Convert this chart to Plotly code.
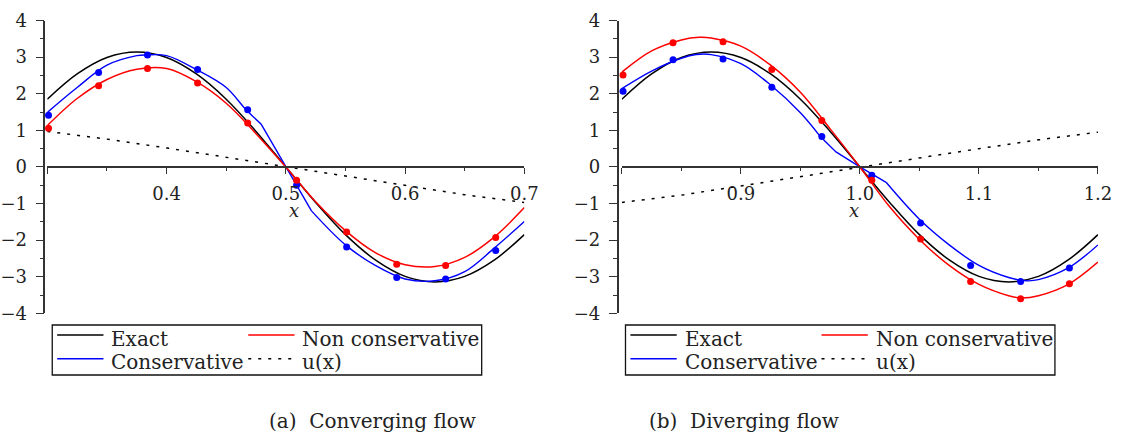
import plotly.graph_objects as go

W, H = 1130, 446
FONT = "DejaVu Serif"
INK = "#222222"
AXIS = "#333333"

# ---------------- (a) Converging flow ----------------
a_x_line = [0.300, 0.325, 0.350, 0.375, 0.400, 0.425, 0.450, 0.475, 0.500,
            0.525, 0.550, 0.575, 0.600, 0.625, 0.650, 0.675, 0.700]
a_exact = [1.85, 2.54, 2.99, 3.14, 2.99, 2.54, 1.85, 0.97, 0.00,
           -0.97, -1.85, -2.54, -2.99, -3.14, -2.99, -2.54, -1.85]
a_noncons_line = [1.13, 1.87, 2.39, 2.67, 2.69, 2.33, 1.74, 0.91, 0.00,
                  -0.95, -1.74, -2.34, -2.67, -2.72, -2.47, -1.91, -1.11]

# conservative solution: smooth branches joined by a straight piece across the centre
a_cons_x = [0.300, 0.325, 0.350, 0.375, 0.3833, 0.400, 0.425, 0.450, 0.4667,
            0.4793, 0.500, 0.5215, 0.550, 0.575, 0.600, 0.625,
            0.650, 0.675, 0.700]
a_cons = [1.49, 2.17, 2.78, 3.04, 3.06, 3.04, 2.66, 2.17, 1.56,
          1.17, 0.00, -1.20, -2.13, -2.69, -3.06, -3.11,
          -2.86, -2.21, -1.49]
a_kinks = (9, 11)

a_u_x = [0.30, 0.35, 0.40, 0.45, 0.50, 0.55, 0.60, 0.65, 0.70]
a_u = [0.97, 0.76, 0.52, 0.26, 0.00, -0.26, -0.52, -0.76, -0.97]

a_pts_x = [0.301, 0.343, 0.384, 0.426, 0.468, 0.509, 0.551, 0.593, 0.634, 0.676]
a_pts_noncons = [1.06, 2.22, 2.69, 2.29, 1.20, -0.365, -1.78, -2.66, -2.69, -1.93]
a_pts_cons = [1.41, 2.58, 3.06, 2.66, 1.56, -0.50, -2.19, -3.02, -3.06, -2.28]

# ---------------- (b) Diverging flow ----------------
b_x_line = [0.800, 0.825, 0.850, 0.875, 0.900, 0.925, 0.950, 0.975, 1.000,
            1.025, 1.050, 1.075, 1.100, 1.125, 1.150, 1.175, 1.200]
b_exact = [1.85, 2.54, 2.99, 3.14, 2.99, 2.54, 1.85, 0.97, 0.00,
           -0.97, -1.85, -2.54, -2.99, -3.14, -2.99, -2.54, -1.85]

b_noncons_x = [0.800, 0.825, 0.850, 0.865, 0.875, 0.900, 0.925, 0.950, 0.975,
               1.000, 1.025, 1.050, 1.075, 1.100, 1.125, 1.135, 1.150, 1.175, 1.200]
b_noncons_line = [2.59, 3.17, 3.47, 3.54, 3.52, 3.30, 2.78, 2.04, 1.04,
                  0.00, -1.09, -1.98, -2.69, -3.21, -3.52, -3.58, -3.52, -3.21, -2.60]

b_cons_x = [0.800, 0.825, 0.850, 0.8625, 0.875, 0.900, 0.925, 0.950, 0.9667,
            0.9799, 1.000, 1.022, 1.050, 1.075, 1.100, 1.125, 1.140,
            1.150, 1.175, 1.200]
b_cons = [2.14, 2.62, 2.97, 3.07, 3.07, 2.82, 2.24, 1.48, 0.83,
          0.41, 0.00, -0.42, -1.43, -2.13, -2.69, -3.02, -3.11,
          -3.08, -2.76, -2.13]
b_kinks = (8, 11)

b_u_x = [0.80, 0.85, 0.90, 0.95, 1.00, 1.05, 1.10, 1.15, 1.20]
b_u = [-0.97, -0.77, -0.52, -0.26, 0.00, 0.26, 0.50, 0.74, 0.95]

b_pts_x = [0.801, 0.843, 0.885, 0.926, 0.968, 1.010, 1.051, 1.093, 1.135, 1.176]
b_pts_noncons = [2.51, 3.39, 3.42, 2.66, 1.27, -0.365, -1.97, -3.13, -3.60, -3.19]
b_pts_cons = [2.07, 2.93, 2.95, 2.18, 0.83, -0.23, -1.53, -2.69, -3.13, -2.76]

y_ticks = [-4, -3, -2, -1, 0, 1, 2, 3, 4]
y_tick_text = ["\u22124", "\u22123", "\u22122", "\u22121", "0", "1", "2", "3", "4"]
a_x_ticks = [0.3, 0.4, 0.5, 0.6, 0.7]
a_x_text = ["", "0.4", "0.5", "0.6", "0.7"]
b_x_ticks = [0.8, 0.9, 1.0, 1.1, 1.2]
b_x_text = ["", "0.9", "1.0", "1.1", "1.2"]

BLACK, RED, BLUE = "#000000", "#ff0000", "#0000ff"
DOT = "3px,7px"


def px_x(p):
    return p / W


def px_y(p):
    return 1 - p / H


Y_TOP, Y_BOT, Y_ZERO = 10, 317.3, 163.65
panels = [
    dict(left=45.0, right=529.3, yaxis_px=42.0,
         rng=[0.3, 0.7], ticks=a_x_ticks, text=a_x_text),
    dict(left=628.3, right=1111.7, yaxis_px=624.0,
         rng=[0.8, 1.2], ticks=b_x_ticks, text=b_x_text),
]

fig = go.Figure()


def add_panel(xref, yref, lx, exact, cx, cons, kinks, nx, noncons, ux, u, px, pc, pn):
    common = dict(xaxis=xref, yaxis=yref, showlegend=False, hoverinfo="skip")
    fig.add_trace(go.Scatter(x=ux, y=u, mode="lines",
                             line=dict(color=BLACK, width=1.5, dash=DOT), **common))
    fig.add_trace(go.Scatter(x=lx, y=exact, mode="lines",
                             line=dict(color=BLACK, width=1.5, shape="spline"), **common))
    k0, k1 = kinks
    pieces = [(0, k0 + 1, "spline"), (k0, k1 + 1, "linear"), (k1, len(cx), "spline")]
    for s, e, shape in pieces:
        fig.add_trace(go.Scatter(x=cx[s:e], y=cons[s:e], mode="lines",
                                 line=dict(color=BLUE, width=1.4, shape=shape),
                                 **common))
    fig.add_trace(go.Scatter(x=nx, y=noncons, mode="lines",
                             line=dict(color=RED, width=1.5, shape="spline"), **common))
    fig.add_trace(go.Scatter(x=px, y=pc, mode="markers", cliponaxis=False,
                             marker=dict(color=BLUE, size=7), **common))
    fig.add_trace(go.Scatter(x=px, y=pn, mode="markers", cliponaxis=False,
                             marker=dict(color=RED, size=7), **common))


add_panel("x", "y", a_x_line, a_exact, a_cons_x, a_cons, a_kinks, a_x_line,
          a_noncons_line, a_u_x, a_u, a_pts_x, a_pts_cons, a_pts_noncons)
add_panel("x2", "y2", b_x_line, b_exact, b_cons_x, b_cons, b_kinks, b_noncons_x,
          b_noncons_line, b_u_x, b_u, b_pts_x, b_pts_cons, b_pts_noncons)

tick_font = dict(family=FONT, size=18, color=INK)
layout = dict(width=W, height=H, margin=dict(l=0, r=0, t=0, b=0),
              paper_bgcolor="white", plot_bgcolor="white", showlegend=False)

for i, p in enumerate(panels):
    sx = "" if i == 0 else "2"
    layout["xaxis" + sx] = dict(
        domain=[px_x(p["left"]), px_x(p["right"])], range=p["rng"],
        anchor="free", position=px_y(Y_ZERO),
        tickvals=p["ticks"], ticktext=p["text"], ticks="outside", ticklen=6,
        tickwidth=1.3, tickcolor=AXIS, tickfont=tick_font, ticklabelstandoff=5,
        ticklabeloverflow="allow",
        minor=dict(dtick=0.05, tick0=p["rng"][0], ticks="outside", ticklen=3,
                   tickwidth=1.2, tickcolor=AXIS, showgrid=False),
        showline=True, linecolor=AXIS, linewidth=1.6,
        showgrid=False, zeroline=False, fixedrange=True)
    layout["yaxis" + sx] = dict(
        domain=[px_y(Y_BOT), px_y(Y_TOP)], range=[-4, 4],
        anchor="free", position=px_x(p["yaxis_px"]),
        tickvals=y_ticks, ticktext=y_tick_text, ticks="outside", ticklen=8,
        tickwidth=1.3, tickcolor=AXIS, tickfont=tick_font, ticklabelstandoff=5,
        ticklabeloverflow="allow",
        minor=dict(dtick=0.5, ticks="outside", ticklen=4, tickwidth=1.2,
                   tickcolor=AXIS, showgrid=False),
        showline=True, linecolor=AXIS, linewidth=1.6,
        showgrid=False, zeroline=False, fixedrange=True)

fig.update_layout(**layout)

# axis titles, legends and captions
legend_rows = [("Exact", BLACK, None, 0, 0), ("Non conservative", RED, None, 1, 0),
               ("Conservative", BLUE, None, 0, 1), ("u(x)", BLACK, DOT, 1, 1)]
captions = ["(a)  Converging flow", "(b)  Diverging flow"]
caption_x = [268, 851]
legend_left = [50, 632]

shapes, annotations = [], []
for i, p in enumerate(panels):
    x_mid = p["left"] + (p["right"] - p["left"]) / 2
    annotations.append(dict(xref="paper", yref="paper", x=px_x(x_mid + 1),
                            y=px_y(209), yanchor="middle", text="<i>x</i>",
                            showarrow=False,
                            font=dict(family=FONT, size=18, color=INK)))
    annotations.append(dict(xref="paper", yref="paper", x=px_x(caption_x[i]),
                            y=px_y(430), yanchor="middle", text=captions[i],
                            showarrow=False,
                            font=dict(family=FONT, size=20, color=INK)))
    L = legend_left[i]
    shapes.append(dict(type="rect", xref="paper", yref="paper",
                       x0=px_x(L), x1=px_x(L + 436), y0=px_y(382), y1=px_y(329.5),
                       line=dict(color="#111111", width=1.3), fillcolor="rgba(0,0,0,0)"))
    for label, color, dash, col, row in legend_rows:
        x0 = L + 5 + col * 194
        y_line = 340 + row * 25
        y_text = 344 + row * 24
        shapes.append(dict(type="line", xref="paper", yref="paper",
                           x0=px_x(x0), x1=px_x(x0 + 47), y0=px_y(y_line),
                           y1=px_y(y_line),
                           line=dict(color=color, width=1.4, dash=dash or "solid")))
        annotations.append(dict(xref="paper", yref="paper", x=px_x(x0 + 53),
                                y=px_y(y_text), xanchor="left", yanchor="middle",
                                text=label, showarrow=False,
                                font=dict(family=FONT, size=20, color=INK)))

fig.update_layout(shapes=shapes, annotations=annotations)
fig.write_html("out.html",
               post_script="document.body.style.margin='0';"
                           "document.body.style.overflow='hidden';")
